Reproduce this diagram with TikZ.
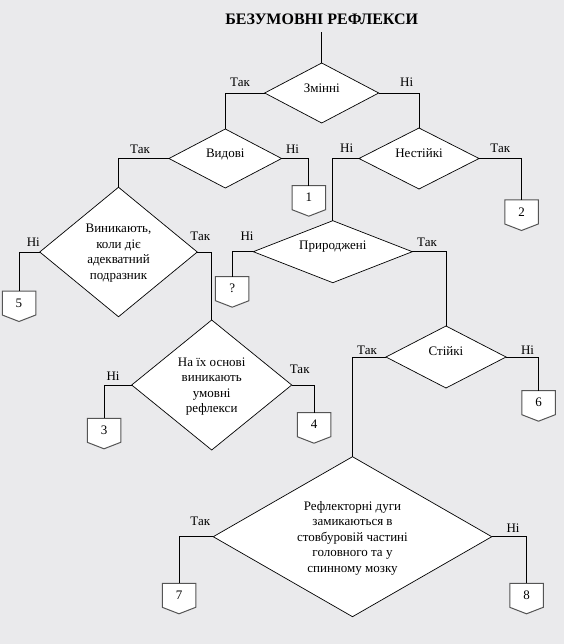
\documentclass[tikz,border=0pt]{standalone}
\usepackage{fontspec}
\setmainfont{Liberation Serif}
\usetikzlibrary{shapes.geometric,calc}
\definecolor{bg}{RGB}{234,234,236}
\definecolor{boxline}{RGB}{85,85,85}
\newcommand{\OffPage}[4]{%
  \node[offbox, anchor=north] (#1) at (#2,#3) {};
  \draw[offline] (#1.north west) -- (#1.north east) -- (#1.south east)
     -- ($(#1.south)+(0,6.5)$) -- (#1.south west) -- cycle;
  \node[txt] at (#1.center) {#4};
}
\begin{document}
\begin{tikzpicture}[x=1pt,y=-1pt,
  dia/.style={diamond, draw=black, fill=white, line width=0.7pt, inner sep=0pt, outer sep=0pt},
  txt/.style={font=\fontsize{13}{15.5}\selectfont, align=center, inner sep=0pt},
  lab/.style={font=\fontsize{13}{15.5}\selectfont, inner sep=0pt},
  con/.style={draw=black, line width=0.7pt},
  offbox/.style={minimum width=33.5pt, minimum height=24pt, inner sep=0pt, outer sep=0pt},
  offline/.style={draw=boxline, fill=white, line width=1pt}
]
\useasboundingbox (0,0) rectangle (564,644);
\fill[bg] (0,0) rectangle (564,644);

% title
\node[anchor=base, inner sep=0pt, font=\bfseries\fontsize{16}{18}\selectfont] (title) at (321.7,24.3) {БЕЗУМОВНІ РЕФЛЕКСИ};

% diamonds
\node[dia, minimum width=114pt, minimum height=60pt] (zm) at (321.7,93) {};
\node[dia, minimum width=112.6pt, minimum height=59pt] (vd) at (225.3,158.5) {};
\node[dia, minimum width=120pt, minimum height=61pt] (ns) at (419,158.5) {};
\node[dia, minimum width=157.5pt, minimum height=129.5pt] (vn) at (118.5,252) {};
\node[dia, minimum width=159pt, minimum height=62pt] (pr) at (332.8,251.7) {};
\node[dia, minimum width=120pt, minimum height=62pt] (st) at (446,357) {};
\node[dia, minimum width=160pt, minimum height=130pt] (no) at (211.7,385) {};
\node[dia, minimum width=278.5pt, minimum height=160pt] (rd) at (352.5,536.7) {};

% diamond texts
\node[txt, anchor=base] at (321.7,92.5) {Змінні};
\node[txt, anchor=base] at (225.3,157.5) {Видові};
\node[txt, anchor=base] at (419,158) {Нестійкі};
\node[txt, anchor=base] at (332.8,249.5) {Природжені};
\node[txt, anchor=base] at (446,355.7) {Стійкі};
\node[txt] at (118.5,253) {Виникають,\\коли діє\\адекватний\\подразник};
\node[txt] at (211.7,386.5) {На їх основі\\виникають\\умовні\\рефлекси};
\node[txt] at (352.5,538) {Рефлекторні дуги\\замикаються в\\стовбуровій частині\\головного та у\\спинному мозку};

% off-page boxes
\OffPage{b1}{308.8}{185.7}{1}
\OffPage{b2}{521.5}{200}{2}
\OffPage{b5}{19}{291}{5}
\OffPage{bq}{232.2}{276.7}{?}
\OffPage{b3}{104}{418.3}{3}
\OffPage{b4}{314}{412.7}{4}
\OffPage{b6}{538.5}{390.7}{6}
\OffPage{b7}{179}{583.3}{7}
\OffPage{b8}{526.5}{583.3}{8}

% connectors
\draw[con] (title.south) ++(0,7.4) -- (zm.north);
\draw[con] (zm.west) -| (vd.north);
\draw[con] (zm.east) -| (ns.north);
\draw[con] (vd.west) -| (vn.north);
\draw[con] (vd.east) -| (b1.north);
\draw[con] (ns.west) -| (pr.north);
\draw[con] (ns.east) -| (b2.north);
\draw[con] (vn.west) -| (b5.north);
\draw[con] (vn.east) -| (no.north);
\draw[con] (pr.west) -| (bq.north);
\draw[con] (pr.east) -| (st.north);
\draw[con] (st.west) -| (rd.north);
\draw[con] (st.east) -| (b6.north);
\draw[con] (no.west) -| (b3.north);
\draw[con] (no.east) -| (b4.north);
\draw[con] (rd.west) -| (b7.north);
\draw[con] (rd.east) -| (b8.north);

% branch labels
\node[lab] at (240,82) {Так};
\node[lab] at (406.7,82) {Ні};
\node[lab] at (140,149) {Так};
\node[lab] at (292.5,149) {Ні};
\node[lab] at (346.7,148.5) {Ні};
\node[lab] at (500.3,148.5) {Так};
\node[lab] at (33.3,242) {Ні};
\node[lab] at (200.3,236) {Так};
\node[lab] at (247,236) {Ні};
\node[lab] at (427,242) {Так};
\node[lab] at (367,350) {Так};
\node[lab] at (527.5,350) {Ні};
\node[lab] at (113,376) {Ні};
\node[lab] at (299.7,369) {Так};
\node[lab] at (200.3,521.5) {Так};
\node[lab] at (513,528.3) {Ні};
\end{tikzpicture}
\end{document}
